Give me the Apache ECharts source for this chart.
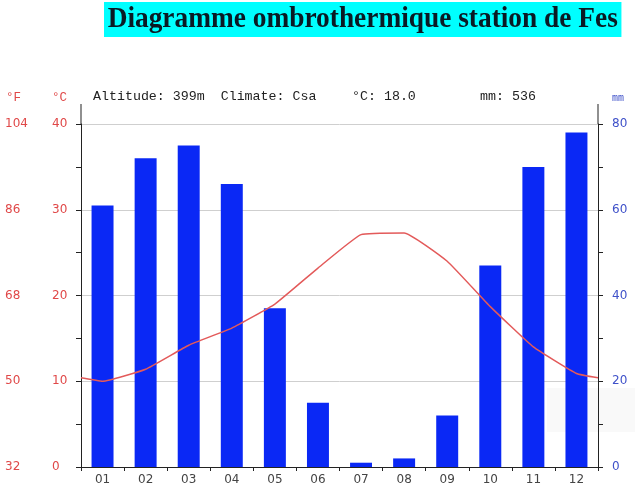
<!DOCTYPE html>
<html>
<head>
<meta charset="utf-8">
<script src="https://cdn.jsdelivr.net/npm/echarts@6/dist/echarts.min.js"></script>
<style>
html,body{margin:0;padding:0;background:#fff;}
#main{width:635px;height:493px;}
</style>
</head>
<body>
<div id="main"></div>
<script>
var months = ['01','02','03','04','05','06','07','08','09','10','11','12'];
var precipitation = [61, 72, 75, 66, 37, 15, 1, 2, 12, 47, 70, 78];
var temperature = [10.0, 11.4, 14.2, 16.2, 19.0, 23.2, 27.1, 27.3, 24.0, 18.7, 14.0, 10.9];
var tempEdgeLeft = 10.4;
var tempEdgeRight = 10.4;
var titleText = 'Diagramme ombrothermique station de Fes';
var infoStation = 'Altitude: 399m  Climate: Csa';
var infoTemp = '°C: 18.0';
var infoPrecip = 'mm: 536';

var lineData = [[0, tempEdgeLeft]];
temperature.forEach(function (t, i) { lineData.push([i + 0.5, t]); });
lineData.push([12, tempEdgeRight]);

var RED = '#e04848';
var BLUE = '#3f51c9';
var AXIS = '#222';
var extSym = { symbol: ['none', 'rect'], symbolSize: [1, 20], symbolOffset: [0, 10] };

var chart = echarts.init(document.getElementById('main'), null, { renderer: 'canvas' });
chart.setOption({
  animation: false,
  backgroundColor: '#fff',
  graphic: [
    { type: 'rect', z: -10, shape: { x: 547, y: 388, width: 88, height: 44 }, style: { fill: 'rgba(0,0,0,0.025)' } },
    { type: 'text', left: 104, top: 2, scaleX: 0.912,
      style: { text: titleText, font: 'bold 30px "Liberation Serif"', fill: '#0a1a24',
               backgroundColor: '#00ffff', padding: [2, 4, 3, 4] } },
    { type: 'text', left: 6, top: 91, style: { text: '°F', font: '12.5px "Liberation Mono"', fill: RED } },
    { type: 'text', left: 52, top: 91, style: { text: '°C', font: '12.5px "Liberation Mono"', fill: RED } },
    { type: 'text', left: 93, top: 90, style: { text: infoStation, font: '13.3px "Liberation Mono"', fill: '#222' } },
    { type: 'text', left: 352, top: 90, style: { text: infoTemp, font: '13.3px "Liberation Mono"', fill: '#222' } },
    { type: 'text', left: 480, top: 90, style: { text: infoPrecip, font: '13.3px "Liberation Mono"', fill: '#222' } },
    { type: 'text', left: 612, top: 93, style: { text: 'mm', font: '10px "Liberation Mono"', fill: BLUE } }
  ],
  grid: { left: 81, right: 37, top: 124, bottom: 26 },
  xAxis: [
    { type: 'category', data: months, boundaryGap: true,
      axisLine: { lineStyle: { color: AXIS, width: 1 } },
      axisTick: { show: true, length: 4, inside: false, lineStyle: { color: AXIS } },
      axisLabel: { color: '#444', fontSize: 12, fontFamily: 'DejaVu Sans', margin: 7 },
      splitLine: { show: false } },
    { type: 'value', min: 0, max: 12, show: false }
  ],
  yAxis: [
    { type: 'value', min: 0, max: 40, interval: 10, position: 'left',
      axisLine: Object.assign({ show: true, lineStyle: { color: AXIS, width: 1 } }, extSym),
      axisTick: { show: true, length: 5, lineStyle: { color: AXIS } },
      minorTick: { show: true, splitNumber: 2, length: 5, lineStyle: { color: AXIS } },
      splitLine: { show: true, lineStyle: { color: '#cfcfcf', width: 1 } },
      axisLabel: { color: RED, fontSize: 12, fontFamily: 'DejaVu Sans', align: 'left', margin: 29 } },
    { type: 'value', min: 0, max: 80, interval: 20, position: 'right',
      axisLine: Object.assign({ show: true, lineStyle: { color: AXIS, width: 1 } }, extSym),
      axisTick: { show: true, length: 5, lineStyle: { color: AXIS } },
      minorTick: { show: true, splitNumber: 2, length: 5, lineStyle: { color: AXIS } },
      splitLine: { show: false },
      axisLabel: { color: BLUE, fontSize: 12, fontFamily: 'DejaVu Sans', margin: 14 } },
    { type: 'value', min: 32, max: 104, interval: 18, position: 'left',
      axisLine: { show: false }, axisTick: { show: false }, splitLine: { show: false },
      axisLabel: { color: RED, fontSize: 12, fontFamily: 'DejaVu Sans', align: 'left', margin: 76 } }
  ],
  series: [
    { type: 'bar', xAxisIndex: 0, yAxisIndex: 1, data: precipitation, barWidth: '51%',
      itemStyle: { color: '#0a28f5' }, z: 2 },
    { type: 'line', xAxisIndex: 1, yAxisIndex: 0, data: lineData, smooth: 0.12,
      symbol: 'none', lineStyle: { color: '#e35a5a', width: 1.5 }, z: 3 }
  ]
});
</script>
</body>
</html>
